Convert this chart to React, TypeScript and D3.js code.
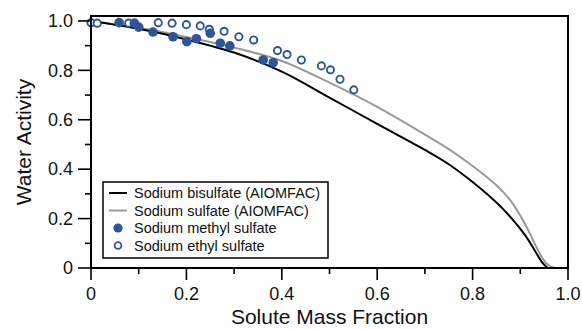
import React from "react";
import * as d3 from "d3";

const bisulfateX = [0, 0.1, 0.2, 0.3, 0.4, 0.5, 0.6, 0.7, 0.75, 0.8, 0.85, 0.88, 0.91, 0.93, 0.945, 0.957];
const bisulfateY = [1.0, 0.968, 0.925, 0.872, 0.795, 0.69, 0.583, 0.478, 0.42, 0.348, 0.265, 0.205, 0.133, 0.072, 0.025, 0.0];

const sulfateX = [0, 0.1, 0.2, 0.3, 0.4, 0.5, 0.6, 0.7, 0.75, 0.8, 0.85, 0.88, 0.9, 0.92, 0.935, 0.948, 0.96, 0.973];
const sulfateY = [1.0, 0.972, 0.935, 0.892, 0.838, 0.75, 0.652, 0.54, 0.481, 0.413, 0.335, 0.272, 0.212, 0.14, 0.08, 0.035, 0.01, 0.0];

const methylX = [0.059, 0.091, 0.1, 0.13, 0.172, 0.201, 0.221, 0.25, 0.271, 0.291, 0.361, 0.382];
const methylY = [0.993, 0.991, 0.975, 0.955, 0.936, 0.916, 0.928, 0.95, 0.91, 0.899, 0.842, 0.831];

const ethylX = [0.0, 0.013, 0.079, 0.141, 0.17, 0.2, 0.229, 0.248, 0.279, 0.31, 0.341, 0.391, 0.411, 0.441, 0.483, 0.502, 0.522, 0.551];
const ethylY = [0.993, 0.991, 0.991, 0.993, 0.991, 0.985, 0.98, 0.966, 0.958, 0.936, 0.923, 0.88, 0.864, 0.842, 0.818, 0.802, 0.764, 0.721];

const xMajor = [0, 0.2, 0.4, 0.6, 0.8, 1.0];
const xMajorLabels = ["0", "0.2", "0.4", "0.6", "0.8", "1.0"];
const xMinor = [0.1, 0.3, 0.5, 0.7, 0.9];
const yMajor = [0, 0.2, 0.4, 0.6, 0.8, 1.0];
const yMajorLabels = ["0", "0.2", "0.4", "0.6", "0.8", "1.0"];
const yMinor = [0.1, 0.3, 0.5, 0.7, 0.9];

const legendLabels = [
  "Sodium bisulfate (AIOMFAC)",
  "Sodium sulfate (AIOMFAC)",
  "Sodium methyl sulfate",
  "Sodium ethyl sulfate",
];

const BLUE = "#2f5597";
const GRAY = "#9a9a9a";
const FONT = "'Liberation Sans', Arial, Helvetica, sans-serif";

export default function App() {
  const W = 582, H = 329;
  const L = 91, R = 568, T = 16, B = 268;
  const x = d3.scaleLinear().domain([0, 1]).range([L, R]);
  const y = d3.scaleLinear().domain([0, 1.02]).range([B, T]);

  const line = d3
    .line<[number, number]>()
    .x((d) => x(d[0]))
    .y((d) => y(d[1]))
    .curve(d3.curveCatmullRom.alpha(0.5));

  const bis = bisulfateX.map((v, i) => [v, bisulfateY[i]] as [number, number]);
  const sul = sulfateX.map((v, i) => [v, sulfateY[i]] as [number, number]);

  const legX = 103, legY = 182, legW = 225, legH = 76;
  const rows = [193, 210.5, 228, 245.5];

  return (
    <svg width={W} height={H} style={{ position: "absolute", left: 0, top: 0, fontFamily: FONT }}>
      <rect x={0} y={0} width={W} height={H} fill="white" />
      <path d={line(sul) || ""} fill="none" stroke={GRAY} strokeWidth={2} />
      <path d={line(bis) || ""} fill="none" stroke="#000" strokeWidth={2} />
      {ethylX.map((v, i) => (
        <circle key={"e" + i} cx={x(v)} cy={y(ethylY[i])} r={3.6} fill="white" stroke={BLUE} strokeWidth={1.9} />
      ))}
      {methylX.map((v, i) => (
        <circle key={"m" + i} cx={x(v)} cy={y(methylY[i])} r={4.8} fill={BLUE} />
      ))}
      <rect x={L} y={T} width={R - L} height={B - T} fill="none" stroke="#000" strokeWidth={2} />
      {xMajor.map((v, i) => (
        <g key={"xm" + i}>
          <line x1={x(v)} x2={x(v)} y1={B} y2={B + 12} stroke="#000" strokeWidth={1.6} />
          <text x={x(v)} y={300} textAnchor="middle" fontSize={18} fill="#111">{xMajorLabels[i]}</text>
        </g>
      ))}
      {xMinor.map((v, i) => (
        <line key={"xn" + i} x1={x(v)} x2={x(v)} y1={B} y2={B + 6} stroke="#000" strokeWidth={1.6} />
      ))}
      {yMajor.map((v, i) => (
        <g key={"ym" + i}>
          <line x1={L - 13} x2={L} y1={y(v)} y2={y(v)} stroke="#000" strokeWidth={1.6} />
          <text x={73} y={y(v)} dy="0.35em" textAnchor="end" fontSize={18} fill="#111">{yMajorLabels[i]}</text>
        </g>
      ))}
      {yMinor.map((v, i) => (
        <line key={"yn" + i} x1={L - 6} x2={L} y1={y(v)} y2={y(v)} stroke="#000" strokeWidth={1.6} />
      ))}
      <text x={(L + R) / 2} y={324} textAnchor="middle" fontSize={21} fill="#111">Solute Mass Fraction</text>
      <text transform={`translate(31, ${(T + B) / 2}) rotate(-90)`} textAnchor="middle" fontSize={21} fill="#111">Water Activity</text>
      <rect x={legX} y={legY} width={legW} height={legH} fill="white" stroke="#000" strokeWidth={1.5} />
      <line x1={109} x2={127} y1={rows[0]} y2={rows[0]} stroke="#000" strokeWidth={2} />
      <line x1={109} x2={127} y1={rows[1]} y2={rows[1]} stroke={GRAY} strokeWidth={2} />
      <circle cx={118} cy={rows[2]} r={4.6} fill={BLUE} />
      <circle cx={118} cy={rows[3]} r={3.4} fill="white" stroke={BLUE} strokeWidth={1.8} />
      {legendLabels.map((t, i) => (
        <text key={"l" + i} x={134} y={rows[i]} dy="0.36em" fontSize={14.5} fill="#111">{t}</text>
      ))}
    </svg>
  );
}
